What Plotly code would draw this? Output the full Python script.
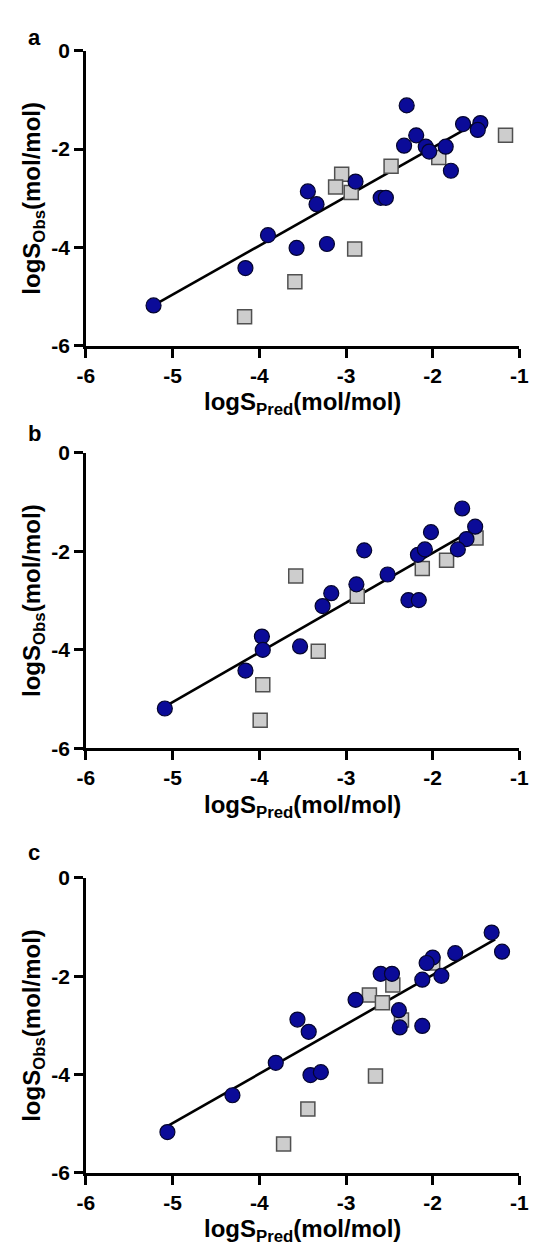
import plotly.graph_objects as go

# ---------------- data ----------------
x_tickvals = [-6, -5, -4, -3, -2, -1]
x_ticktext = ["-6", "-5", "-4", "-3", "-2", "-1"]
y_tickvals = [-6, -4, -2, 0]
y_ticktext = ["-6", "-4", "-2", "0"]

# panel a
a_circ_x = [-2.30, -1.65, -1.45, -1.48, -2.19, -2.33, -2.08, -1.85, -2.04, -1.79,
            -2.89, -2.60, -2.54, -3.44, -3.34, -3.90, -3.57, -3.22, -4.16, -5.22]
a_circ_y = [-1.11, -1.49, -1.47, -1.61, -1.72, -1.93, -1.95, -1.95, -2.05, -2.44,
            -2.66, -2.99, -2.99, -2.86, -3.12, -3.75, -4.01, -3.93, -4.42, -5.18]
a_sq_x = [-1.16, -1.93, -2.48, -3.05, -3.12, -2.94, -2.90, -3.59, -4.17]
a_sq_y = [-1.72, -2.17, -2.35, -2.51, -2.77, -2.88, -4.03, -4.70, -5.41]
a_fit_x = [-5.22, -1.50]
a_fit_y = [-5.18, -1.47]

# panel b
b_circ_x = [-1.66, -1.51, -1.61, -2.02, -1.71, -2.79, -2.17, -2.09, -2.52, -2.88,
            -3.17, -3.27, -2.28, -2.16, -3.97, -3.96, -3.53, -4.16, -5.09]
b_circ_y = [-1.13, -1.50, -1.75, -1.61, -1.96, -1.98, -2.07, -1.96, -2.47, -2.67,
            -2.85, -3.11, -2.99, -2.99, -3.73, -4.00, -3.93, -4.42, -5.19]
b_sq_x = [-1.50, -1.84, -2.12, -3.58, -2.87, -3.32, -3.96, -3.99]
b_sq_y = [-1.73, -2.18, -2.35, -2.50, -2.91, -4.03, -4.71, -5.43]
b_fit_x = [-5.09, -1.52]
b_fit_y = [-5.15, -1.55]

# panel c
c_circ_x = [-1.32, -1.20, -1.74, -2.00, -2.07, -1.90, -2.12, -2.60, -2.47, -2.89,
            -2.39, -2.38, -2.12, -3.56, -3.43, -3.81, -3.41, -3.29, -4.31, -5.06]
c_circ_y = [-1.11, -1.50, -1.53, -1.62, -1.73, -1.99, -2.07, -1.95, -1.95, -2.48,
            -2.69, -3.04, -3.01, -2.88, -3.13, -3.76, -4.01, -3.95, -4.42, -5.17]
c_sq_x = [-2.00, -2.46, -2.73, -2.58, -2.36, -2.66, -3.44, -3.72]
c_sq_y = [-1.73, -2.18, -2.38, -2.54, -2.89, -4.03, -4.70, -5.41]
c_fit_x = [-5.06, -1.28]
c_fit_y = [-5.05, -1.25]

panels = [
    ("a", a_circ_x, a_circ_y, a_sq_x, a_sq_y, a_fit_x, a_fit_y),
    ("b", b_circ_x, b_circ_y, b_sq_x, b_sq_y, b_fit_x, b_fit_y),
    ("c", c_circ_x, c_circ_y, c_sq_x, c_sq_y, c_fit_x, c_fit_y),
]

# ---------------- layout geometry (page pixels) ----------------
OFF = 8                      # default body margin of the html page
W, H = 537 - OFF, 1247 - OFF  # figure size so the page fits the window
x_left, x_right = 79.5, 529.1
panel_tops = [39.4, 449.0, 882.2]
panel_bots = [339.9, 750.2, 1182.7]
letter_y = [25.7, 429.0, 856.5]


def px(xp):
    return (xp - OFF) / W


def py(yp):
    return 1 - (yp - OFF) / H


FONT = "Liberation Sans, Arial, Helvetica, sans-serif"
circ_fill = "#0b0b98"
circ_line = "#05052e"
sq_fill = "#cdcdcd"
sq_line = "#505050"

fig = go.Figure()
layout = dict(
    width=W, height=H,
    margin=dict(l=0, r=0, t=0, b=0),
    paper_bgcolor="white", plot_bgcolor="white",
    showlegend=False,
    font=dict(family=FONT, color="black"),
)
annotations = []

for i, (lab, cx, cy, sx, sy, fx, fy) in enumerate(panels):
    n = "" if i == 0 else str(i + 1)
    xa, ya = "x" + n, "y" + n
    fig.add_trace(go.Scatter(x=fx, y=fy, mode="lines", xaxis=xa, yaxis=ya,
                             line=dict(color="black", width=2.6), hoverinfo="skip"))
    fig.add_trace(go.Scatter(x=sx, y=sy, mode="markers", xaxis=xa, yaxis=ya,
                             marker=dict(symbol="square", size=14, color=sq_fill,
                                         line=dict(color=sq_line, width=1.5))))
    fig.add_trace(go.Scatter(x=cx, y=cy, mode="markers", xaxis=xa, yaxis=ya,
                             marker=dict(symbol="circle", size=15, color=circ_fill,
                                         line=dict(color=circ_line, width=1.2))))

    top, bot = panel_tops[i], panel_bots[i]
    common = dict(showline=True, linecolor="black", linewidth=2.6,
                  ticks="outside", ticklen=9, tickwidth=2.6, tickcolor="black",
                  showgrid=False, zeroline=False, ticklabeloverflow="allow",
                  tickfont=dict(family=FONT, size=21, color="black", weight="bold"))
    layout["xaxis" + n] = dict(domain=[px(x_left), px(x_right)], range=[-6, -1],
                               anchor=ya, tickvals=x_tickvals, ticktext=x_ticktext,
                               **common)
    layout["yaxis" + n] = dict(domain=[py(bot), py(top)], range=[-6, 0],
                               anchor=xa, tickvals=y_tickvals, ticktext=y_ticktext,
                               **common)

    # panel letter
    annotations.append(dict(text="<b>" + lab + "</b>", x=px(25.7), y=py(letter_y[i]),
                            xref="paper", yref="paper", xanchor="center", yanchor="middle",
                            showarrow=False, font=dict(family=FONT, size=22, color="black")))
    # x title
    annotations.append(dict(text="<b>logS<sub>Pred</sub>(mol/mol)</b>",
                            x=px((x_left + x_right) / 2), y=py(bot + 41),
                            xref="paper", yref="paper", xanchor="center", yanchor="top",
                            showarrow=False, font=dict(family=FONT, size=24, color="black")))
    # y title
    annotations.append(dict(text="<b>logS<sub>Obs</sub>(mol/mol)</b>",
                            x=px(25.0), y=py((top + bot) / 2), textangle=-90,
                            xref="paper", yref="paper", xanchor="center", yanchor="middle",
                            showarrow=False, font=dict(family=FONT, size=24, color="black")))

layout["annotations"] = annotations
fig.update_layout(**layout)
fig.write_html("out.html")
